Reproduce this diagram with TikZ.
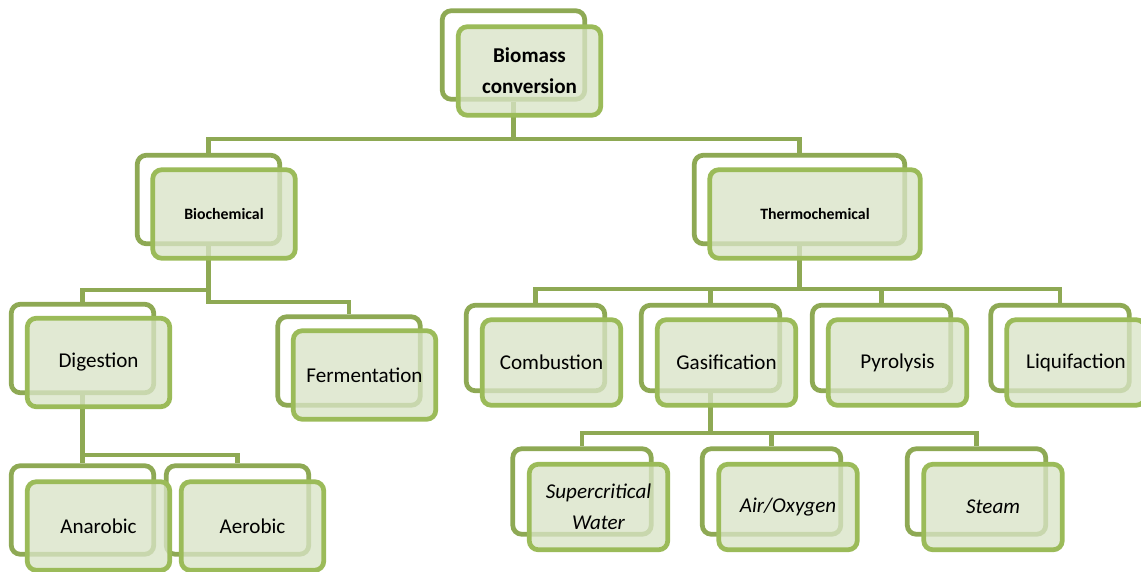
\documentclass[tikz,border=0pt]{standalone}
\usepackage{fontspec}
\setmainfont{Carlito}
\usepackage{xcolor}
\usepackage{tikz}
\usetikzlibrary{positioning, calc}

\definecolor{backgreen}{HTML}{8EA954}
\definecolor{frontgreen}{HTML}{9BBB59}
\definecolor{fillgreen}{HTML}{D9E4C7}

\tikzset{
    backbox/.style={draw=backgreen, line width=0.095cm, rounded corners=0.18cm, fill=white, minimum width=2.77cm, minimum height=1.71cm, inner sep=0pt},
    frontbox/.style={draw=frontgreen, line width=0.095cm, rounded corners=0.18cm, fill=fillgreen, fill opacity=0.78, text opacity=1, minimum width=2.77cm, minimum height=1.71cm, inner sep=0pt, align=center, font=\fontsize{12}{17.5}\selectfont},
    bigger/.style={minimum width=2.85cm, minimum height=1.77cm},
    link/.style={draw=backgreen, line width=0.088cm}
}

\begin{document}
\begin{tikzpicture}[x=0.02cm, y=-0.02cm]
    \useasboundingbox (0,0) rectangle (1141,571);

    % Back boxes
    \node[backbox, bigger] (Bio) at (513.5,55) {};
    \node[backbox, bigger] (Biochem) at (208.5,199.5) {};
    \node[backbox, bigger, minimum width=4.21cm] (Thermo) at (799.5,199.5) {};
    \node[backbox, bigger] (Dig) at (82.5,348.5) {};
    \node[backbox, bigger] (Ferm) at (349,361) {};
    \node[backbox, bigger] (Ana) at (82.5,510) {};
    \node[backbox, bigger] (Aer) at (237.5,510) {};
    \node[backbox] (Comb) at (535.5,348) {};
    \node[backbox] (Gas) at (710.5,348) {};
    \node[backbox] (Pyr) at (881.5,348) {};
    \node[backbox] (Liq) at (1060,348) {};
    \node[backbox] (Sup) at (582,491.5) {};
    \node[backbox] (Air) at (771.5,491.5) {};
    \node[backbox] (Steam) at (976.5,491.5) {};

    % Connectors
    \draw[link] (Bio.south) -- (Bio.south |- 0,139) -| (Biochem.north);
    \draw[link] (Bio.south) -- (Bio.south |- 0,139) -| (Thermo.north);
    \draw[link] (Biochem.south) -- (Biochem.south |- 0,290) -| (Dig.north);
    \draw[link] (Biochem.south) -- (Biochem.south |- 0,302) -| (Ferm.north);
    \draw[link] (Thermo.south) -- (Thermo.south |- 0,289) -| (Comb.north);
    \draw[link] (Thermo.south) -- (Thermo.south |- 0,289) -| (Gas.north);
    \draw[link] (Thermo.south) -- (Thermo.south |- 0,289) -| (Pyr.north);
    \draw[link] (Thermo.south) -- (Thermo.south |- 0,289) -| (Liq.north);
    \draw[link] (Dig.south) -- (Dig.south |- 0,455) -| (Ana.north);
    \draw[link] (Dig.south) -- (Dig.south |- 0,455) -| (Aer.north);
    \draw[link] (Gas.south) -- (Gas.south |- 0,433) -| (Sup.north);
    \draw[link] (Gas.south) -- (Gas.south |- 0,433) -| (Air.north);
    \draw[link] (Gas.south) -- (Gas.south |- 0,433) -| (Steam.north);

    % Front boxes
    \node[frontbox, bigger, font=\fontsize{12}{17.5}\selectfont\bfseries] (BioF) at ([shift={(16,16)}]Bio.center) {Biomass\\conversion};
    \node[frontbox, bigger, font=\fontsize{9}{11}\selectfont\bfseries] (BiochemF) at ([shift={(15.5,14.5)}]Biochem.center) {Biochemical};
    \node[frontbox, bigger, minimum width=4.21cm, font=\fontsize{9}{11}\selectfont\bfseries] (ThermoF) at ([shift={(15.5,14.5)}]Thermo.center) {Thermochemical};
    \node[frontbox, bigger] (DigF) at ([shift={(16,14)}]Dig.center) {Digestion};
    \node[frontbox, bigger] (FermF) at ([shift={(15.5,14)}]Ferm.center) {Fermentation};
    \node[frontbox, bigger] (AnaF) at ([shift={(16,16)}]Ana.center) {Anarobic};
    \node[frontbox, bigger] (AerF) at ([shift={(15,16)}]Aer.center) {Aerobic};
    \node[frontbox] (CombF) at ([shift={(16,14.5)}]Comb.center) {Combustion};
    \node[frontbox] (GasF) at ([shift={(16,14.5)}]Gas.center) {Gasification};
    \node[frontbox] (PyrF) at ([shift={(16,14.5)}]Pyr.center) {Pyrolysis};
    \node[frontbox] (LiqF) at ([shift={(16,14.5)}]Liq.center) {Liquifaction};
    \node[frontbox] (SupF) at ([shift={(16.5,15.5)}]Sup.center) {\itshape Supercritical\\\itshape Water};
    \node[frontbox] (AirF) at ([shift={(16.5,15.5)}]Air.center) {\itshape Air/Oxygen};
    \node[frontbox] (SteamF) at ([shift={(16.5,15.5)}]Steam.center) {\itshape Steam};
\end{tikzpicture}
\end{document}
